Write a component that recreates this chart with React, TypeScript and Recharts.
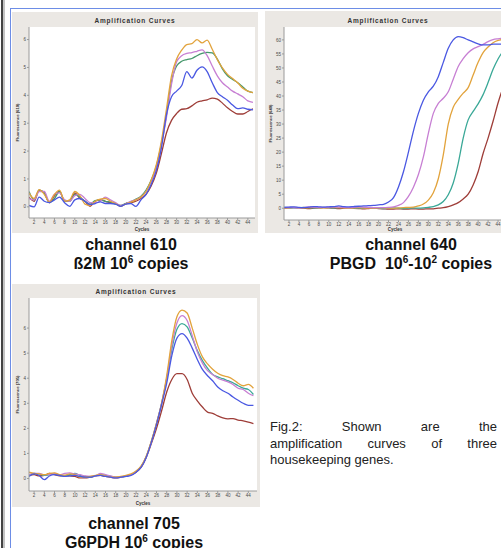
import { LineChart, Line, XAxis, YAxis, CartesianGrid } from 'recharts';

// PCR cycles on the x axis
const cycles = [
    1, 2, 3, 4, 5, 6, 7, 8, 9, 10, 11, 12, 13, 14, 15, 16, 17, 18, 19, 20, 21, 22, 23,
    24, 25, 26, 27, 28, 29, 30, 31, 32, 33, 34, 35, 36, 37, 38, 39, 40, 41, 42, 43, 44, 45,
];
const xTicks = [2, 4, 6, 8, 10, 12, 14, 16, 18, 20, 22, 24, 26, 28, 30, 32, 34, 36, 38, 40, 42, 44];

// channel 610 - ß2M 10^6 copies
const b2mOrange = [
    0.5, 0.3, 0.62, 0.45, 0.17, 0.45, 0.6, 0.2, 0.25, 0.55,
    0.4, 0.1, 0.05, 0.2, 0.28, 0.3, 0.2, 0.12, 0.02, 0.1,
    0.17, 0.25, 0.35, 0.55, 0.95, 1.5, 2.35, 3.5, 4.7, 5.3,
    5.62, 5.82, 5.85, 6.0, 5.88, 5.98, 5.65, 5.28, 4.98, 4.75,
    4.6, 4.45, 4.25, 4.15, 4.1,
];
const b2mGreen = [
    0.55, 0.25, 0.6, 0.5, 0.15, 0.3, 0.55, 0.2, 0.2, 0.45,
    0.35, 0.2, 0.1, 0.22, 0.25, 0.2, 0.18, 0.1, 0.05, 0.12,
    0.18, 0.28, 0.38, 0.6, 0.95, 1.45, 2.25, 3.3, 4.5, 5.05,
    5.22, 5.28, 5.32, 5.42, 5.5, 5.54, 5.52, 5.3, 4.95, 4.7,
    4.57, 4.45, 4.3, 4.15, 4.1,
];
const b2mMagenta = [
    0.3, 0.25, 0.55, 0.55, 0.2, 0.45, 0.5, 0.25, 0.2, 0.4,
    0.45, 0.3, 0.15, 0.15, 0.2, 0.35, 0.25, 0.15, 0.05, 0.1,
    0.2, 0.25, 0.35, 0.55, 0.9, 1.4, 2.2, 3.2, 4.4, 5.2,
    5.42, 5.5, 5.53, 5.58, 5.63, 5.42, 5.05, 4.7, 4.45, 4.3,
    4.15, 4.05, 3.95, 3.8, 3.75,
];
const b2mBlue = [
    0.05, 0.0, 0.35, 0.2, 0.15, 0.25, 0.35, 0.15, 0.02, 0.25,
    0.3, 0.2, 0.08, 0.12, 0.18, 0.12, 0.12, 0.1, 0.02, 0.1,
    0.12, 0.02, 0.25, 0.45, 0.8, 1.3, 2.1, 3.3, 3.95, 4.15,
    4.35, 4.85, 4.62, 4.9, 5.02, 4.85, 4.45, 4.1, 3.95, 3.82,
    3.65, 3.52, 3.55, 3.5, 3.48,
];
const b2mRed = [
    0.35, 0.2, 0.6, 0.5, 0.15, 0.4, 0.55, 0.2, 0.2, 0.5,
    0.3, 0.2, 0.02, 0.2, 0.25, 0.2, 0.15, 0.12, 0.02, 0.12,
    0.15, 0.2, 0.3, 0.45, 0.75, 1.2, 1.9, 2.65, 3.1, 3.35,
    3.5, 3.52, 3.62, 3.75, 3.8, 3.84, 3.9, 3.86, 3.72, 3.55,
    3.42, 3.33, 3.33, 3.42, 3.52,
];

// channel 640 - PBGD 10^6 .. 10^2 copies
const pbgdBlue = [
    0.3, 0.4, 0.5, 0.3, 0.2, 0.4, 0.6, 0.5, 0.4, 0.5,
    0.6, 0.8, 0.6, 0.5, 0.6, 0.7, 0.8, 0.9, 1.0, 1.2,
    1.4, 2.2, 3.8, 7.6, 13, 20, 27.5, 33.8, 38.5, 41.5,
    43.5, 46.9, 52, 57, 60, 61.2, 60.8, 60, 59.3, 58.6,
    58.2, 58.2, 58.5, 58.5, 58.5,
];
const pbgdMagenta = [
    0.2, 0.3, 0.2, 0.1, 0.3, 0.5, 0.4, 0.3, 0.3, 0.4,
    0.5, 0.4, 0.3, 0.2, 0.3, 0.5, 0.4, 0.3, 0.2, 0.2,
    0.2, 0.3, 0.5, 1.0, 2.0, 4.2, 7.5, 12, 18.3, 26.7,
    33.8, 37.4, 39.2, 41.5, 46, 50.5, 53.3, 55.4, 56.8, 57.6,
    58.4, 59.4, 60.1, 60.4, 60.6,
];
const pbgdOrange = [
    0.1, 0.2, 0.3, 0.2, 0.1, 0.2, 0.3, 0.2, 0.1, 0.2,
    0.3, 0.2, 0.1, 0.0, 0.1, 0.2, 0.1, 0.0, 0.0, 0.1,
    0.1, 0.0, 0.0, 0.1, 0.2, 0.3, 0.4, 0.8, 1.5, 2.9,
    5.5, 10.5, 19, 30, 36, 38.8, 41, 43, 47.5, 52,
    55.5, 57.5, 59, 59.8, 60.2,
];
const pbgdTeal = [
    0.3, 0.2, 0.1, 0.2, 0.3, 0.2, 0.1, 0.2, 0.3, 0.2,
    0.1, 0.2, 0.3, 0.2, 0.1, 0.0, 0.1, 0.2, 0.1, 0.0,
    -0.1, 0.0, 0.1, 0.0, -0.1, 0.0, 0.1, 0.0, 0.1, 0.3,
    0.6, 1.2, 2.4, 4.8, 9, 16, 25, 31.5, 34.5, 37.2,
    40.5, 44.8, 49.5, 53.2, 56,
];
const pbgdRed = [
    0.0, 0.1, 0.2, 0.1, 0.0, -0.1, 0.0, 0.1, 0.2, 0.1,
    0.0, -0.1, 0.0, 0.1, 0.0, -0.1, -0.2, -0.1, 0.0, -0.1,
    -0.2, -0.3, -0.3, -0.2, -0.3, -0.3, -0.2, -0.3, -0.3, -0.2,
    -0.2, 0.0, 0.2, 0.6, 1.2, 2.0, 3.3, 5.0, 8.3, 13,
    19.5, 25, 31, 37.5, 43,
];

// channel 705 - G6PDH 10^6 copies
const g6pdhOrange = [
    0.25, 0.2, 0.18, 0.15, 0.2, 0.22, 0.15, 0.12, 0.18, 0.15,
    0.05, 0.05, 0.08, 0.12, 0.15, 0.1, 0.05, 0.05, 0.08, 0.12,
    0.18, 0.3, 0.5, 0.9, 1.5, 2.2, 3.0, 4.1, 5.5, 6.45,
    6.72, 6.6, 6.0, 5.35, 4.85, 4.57, 4.36, 4.2, 4.1, 4.05,
    3.95, 3.8, 3.7, 3.75, 3.6,
];
const g6pdhMagenta = [
    0.15, 0.2, 0.2, 0.15, 0.15, 0.2, 0.15, 0.2, 0.22, 0.18,
    0.15, 0.1, 0.08, 0.1, 0.2, 0.15, 0.1, 0.05, 0.05, 0.1,
    0.15, 0.28, 0.48, 0.88, 1.48, 2.2, 3.0, 4.0, 5.3, 6.2,
    6.5, 6.3, 5.7, 5.05, 4.6, 4.3, 4.15, 4.0, 3.92, 3.85,
    3.75, 3.6, 3.55, 3.4, 3.3,
];
const g6pdhTeal = [
    0.1, 0.2, 0.18, 0.12, 0.15, 0.18, 0.12, 0.1, 0.15, 0.2,
    0.12, 0.08, 0.05, 0.1, 0.15, 0.12, 0.08, 0.05, 0.05, 0.08,
    0.15, 0.28, 0.48, 0.88, 1.48, 2.2, 3.0, 3.95, 5.15, 5.95,
    6.18, 6.05, 5.6, 5.1, 4.7, 4.4, 4.15, 4.05, 3.98, 3.9,
    3.82, 3.7, 3.6, 3.55, 3.35,
];
const g6pdhBlue = [
    0.08, 0.18, 0.12, -0.05, 0.1, 0.15, 0.12, 0.08, 0.1, 0.12,
    0.08, 0.05, 0.05, 0.1, 0.12, 0.08, 0.05, 0.02, 0.05, 0.08,
    0.12, 0.25, 0.45, 0.85, 1.45, 2.15, 2.95, 3.8, 4.9, 5.6,
    5.78, 5.6, 5.2, 4.75, 4.35, 4.1, 3.9, 3.65, 3.5, 3.4,
    3.25, 3.12, 3.0, 2.92, 2.92,
];
const g6pdhRed = [
    0.12, 0.15, 0.1, 0.12, 0.2, 0.15, 0.1, 0.12, 0.1, 0.08,
    0.02, 0.02, 0.05, 0.1, 0.12, 0.08, 0.05, 0.02, 0.05, 0.1,
    0.15, 0.25, 0.45, 0.85, 1.4, 2.0, 2.7, 3.45, 3.95, 4.18,
    4.18, 3.95, 3.4, 3.1, 2.85, 2.65, 2.6, 2.5, 2.42, 2.38,
    2.39, 2.33, 2.3, 2.25, 2.19,
];

const ORANGE = '#e2a33c';
const MAGENTA = '#c77fd3';
const GREEN = '#46986c';
const TEAL = '#3aa897';
const BLUE = '#4a58e2';
const RED = '#9e3d38';

const PANEL_BG = '#ebe8e4';
const FONT = 'Arial, "Liberation Sans", sans-serif';

interface Series {
    key: string;
    values: number[];
    color: string;
}

const buildRows = (series: Series[]) =>
    cycles.map((c, i) => {
        const row: Record<string, number> = { c };
        series.forEach(s => {
            row[s.key] = s.values[i];
        });
        return row;
    });

const YTitle = (props: any) => {
    const { viewBox, text } = props;
    const cx = viewBox.x + 7;
    const cy = viewBox.y + viewBox.height / 2;
    return (
        <text
            x={cx}
            y={cy}
            transform={`rotate(-90 ${cx} ${cy})`}
            textAnchor="middle"
            fontSize={4.2}
            fontWeight="bold"
            fill="#333"
            fontFamily={FONT}
        >
            {text}
        </text>
    );
};

interface PanelProps {
    left: number;
    top: number;
    width: number;
    height: number;
    series: Series[];
    xDomain: [number, number];
    yDomain: [number, number];
    yTicks: number[];
    yTitle: string;
    marginTop: number;
    marginRight: number;
    yAxisWidth: number;
    xAxisHeight: number;
}

function AmpPanel(p: PanelProps) {
    const data = buildRows(p.series);
    const tickStyle = { fontSize: 4.5, fill: '#4a4a4a', fontFamily: FONT };
    return (
        <div style={{ position: 'absolute', left: p.left, top: p.top, width: p.width, height: p.height, background: PANEL_BG }}>
            <div
                style={{
                    position: 'absolute',
                    left: 0,
                    width: p.width,
                    top: p.marginTop - 10,
                    textAlign: 'center',
                    fontFamily: FONT,
                    fontSize: 6.5,
                    fontWeight: 'bold',
                    letterSpacing: 0.8,
                    color: '#333',
                    lineHeight: '7px',
                }}
            >
                Amplification Curves
            </div>
            <LineChart
                width={p.width}
                height={p.height}
                data={data}
                margin={{ top: p.marginTop, right: p.marginRight, bottom: 0, left: 0 }}
                style={{ position: 'absolute', left: 0, top: 0 }}
            >
                <CartesianGrid horizontal={false} vertical={false} fill="#ffffff" />
                <XAxis
                    dataKey="c"
                    type="number"
                    domain={p.xDomain}
                    ticks={xTicks}
                    interval={0}
                    allowDataOverflow
                    tick={tickStyle}
                    tickSize={2}
                    tickMargin={1}
                    height={p.xAxisHeight}
                    axisLine={{ stroke: '#9a9a9a' }}
                    tickLine={{ stroke: '#9a9a9a' }}
                    label={{ value: 'Cycles', position: 'insideBottom', offset: 2, fontSize: 4.5, fontWeight: 'bold', fill: '#333' }}
                />
                <XAxis xAxisId="top" orientation="top" type="number" domain={p.xDomain} height={0} tick={false} tickLine={false} axisLine={{ stroke: '#9a9a9a' }} />
                <YAxis
                    type="number"
                    domain={p.yDomain}
                    ticks={p.yTicks}
                    interval={0}
                    allowDataOverflow
                    width={p.yAxisWidth}
                    tick={tickStyle}
                    tickSize={2}
                    tickMargin={1}
                    axisLine={{ stroke: '#9a9a9a' }}
                    tickLine={{ stroke: '#9a9a9a' }}
                    label={<YTitle text={p.yTitle} />}
                />
                <YAxis yAxisId="right" orientation="right" type="number" domain={p.yDomain} width={0} tick={false} tickLine={false} axisLine={{ stroke: '#9a9a9a' }} />
                {p.series.map(s => (
                    <Line
                        key={s.key}
                        type="monotone"
                        dataKey={s.key}
                        stroke={s.color}
                        strokeWidth={1.3}
                        dot={false}
                        isAnimationActive={false}
                    />
                ))}
            </LineChart>
        </div>
    );
}

const sup = { fontSize: 10, position: 'relative' as const, top: -6 };

export default function App() {
    return (
        <div style={{ position: 'absolute', left: 0, top: 0, width: 501, height: 548, overflow: 'hidden', background: '#fff', fontFamily: FONT }}>
            {/* page frame */}
            <div style={{ position: 'absolute', left: 1, top: 0, width: 2, height: 548, background: '#444' }} />
            <div style={{ position: 'absolute', left: 3, top: 0, width: 2, height: 548, background: '#c4c4c4' }} />
            <div style={{ position: 'absolute', left: 10, top: 8, width: 491, height: 540, borderLeft: '1.5px solid #6d8de6', borderTop: '1.5px solid #6d8de6' }} />

            <AmpPanel
                left={12}
                top={12}
                width={246}
                height={221}
                series={[
                    { key: 'red', values: b2mRed, color: RED },
                    { key: 'green', values: b2mGreen, color: GREEN },
                    { key: 'magenta', values: b2mMagenta, color: MAGENTA },
                    { key: 'orange', values: b2mOrange, color: ORANGE },
                    { key: 'blue', values: b2mBlue, color: BLUE },
                ]}
                xDomain={[1, 45.4]}
                yDomain={[-0.4, 6.45]}
                yTicks={[0, 1, 2, 3, 4, 5, 6]}
                yTitle="Fluorescence (610)"
                marginTop={15}
                marginRight={3}
                yAxisWidth={17}
                xAxisHeight={15}
            />

            <AmpPanel
                left={265}
                top={11}
                width={246}
                height={222}
                series={[
                    { key: 'red', values: pbgdRed, color: RED },
                    { key: 'teal', values: pbgdTeal, color: TEAL },
                    { key: 'orange', values: pbgdOrange, color: ORANGE },
                    { key: 'magenta', values: pbgdMagenta, color: MAGENTA },
                    { key: 'blue', values: pbgdBlue, color: BLUE },
                ]}
                xDomain={[1, 45.6]}
                yDomain={[-4.2, 64.6]}
                yTicks={[0, 5, 10, 15, 20, 25, 30, 35, 40, 45, 50, 55, 60]}
                yTitle="Fluorescence (640)"
                marginTop={16}
                marginRight={5}
                yAxisWidth={19}
                xAxisHeight={13}
            />

            <AmpPanel
                left={12}
                top={284}
                width={248}
                height={223}
                series={[
                    { key: 'red', values: g6pdhRed, color: RED },
                    { key: 'teal', values: g6pdhTeal, color: TEAL },
                    { key: 'magenta', values: g6pdhMagenta, color: MAGENTA },
                    { key: 'orange', values: g6pdhOrange, color: ORANGE },
                    { key: 'blue', values: g6pdhBlue, color: BLUE },
                ]}
                xDomain={[1, 45.7]}
                yDomain={[-0.5, 7.2]}
                yTicks={[0, 1, 2, 3, 4, 5, 6]}
                yTitle="Fluorescence (705)"
                marginTop={14}
                marginRight={3}
                yAxisWidth={17}
                xAxisHeight={16}
            />

            {/* captions */}
            <div style={{ position: 'absolute', left: 31, width: 200, top: 235, textAlign: 'center', fontSize: 16, fontWeight: 'bold', lineHeight: '19px', color: '#111' }}>
                <div>channel 610</div>
                <div>ß2M 10<span style={sup}>6</span> copies</div>
            </div>
            <div style={{ position: 'absolute', left: 311, width: 200, top: 235, textAlign: 'center', fontSize: 16, fontWeight: 'bold', lineHeight: '19px', color: '#111' }}>
                <div>channel 640</div>
                <div style={{ whiteSpace: 'pre' }}>PBGD  10<span style={sup}>6</span>-10<span style={sup}>2</span> copies</div>
            </div>
            <div style={{ position: 'absolute', left: 34, width: 200, top: 514, textAlign: 'center', fontSize: 16, fontWeight: 'bold', lineHeight: '19px', color: '#111' }}>
                <div>channel 705</div>
                <div>G6PDH 10<span style={sup}>6</span> copies</div>
            </div>

            <div style={{ position: 'absolute', left: 270, width: 227, top: 419, fontSize: 13, lineHeight: '16.5px', color: '#222' }}>
                <div style={{ textAlign: 'justify', textAlignLast: 'justify' }}>Fig.2: Shown are the</div>
                <div style={{ textAlign: 'justify', textAlignLast: 'justify' }}>amplification curves of three</div>
                <div>housekeeping genes.</div>
            </div>
        </div>
    );
}
